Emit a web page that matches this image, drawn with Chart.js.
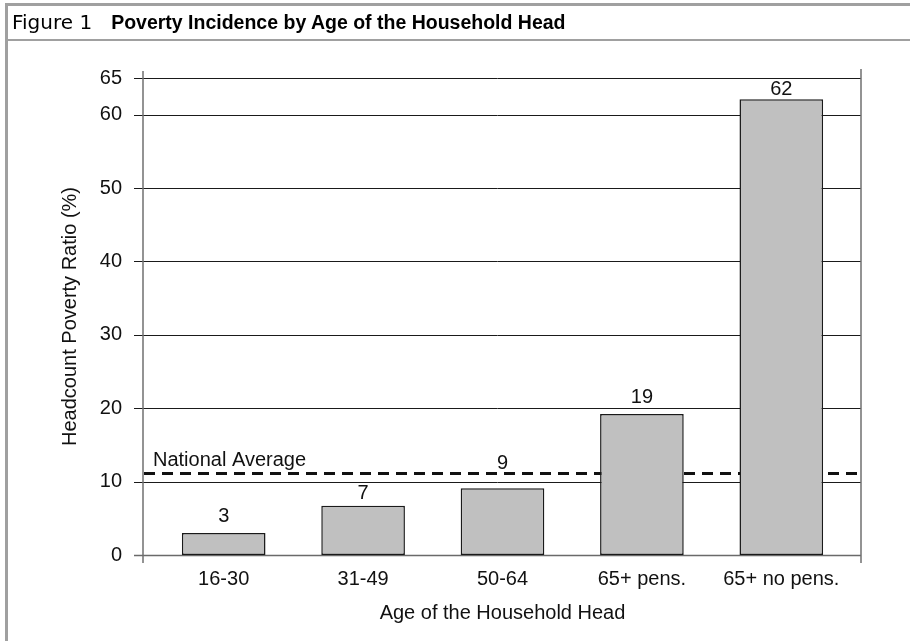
<!DOCTYPE html>
<html>
<head>
<meta charset="utf-8">
<script src="https://cdn.jsdelivr.net/npm/chart.js@4/dist/chart.umd.min.js"></script>
<style>
html, body { margin: 0; padding: 0; background: #fff; width: 910px; height: 641px; overflow: hidden; }
#c { position: absolute; left: 0; top: 0; }
#frame { position: absolute; left: 5px; top: 3px; width: 905px; height: 660px; border-left: 3px solid #a0a0a0; border-top: 3px solid #a0a0a0; }
#head { height: 33px; border-bottom: 2px solid #a0a0a0; line-height: 33px; white-space: nowrap; color: #000; }
#head .fig { font-family: "DejaVu Sans"; font-size: 20px; margin-left: 4px; }
#head .ttl { font-family: "Liberation Sans"; font-size: 19.5px; font-weight: bold; margin-left: 19px; }
</style>
</head>
<body>
<canvas id="c" width="910" height="641"></canvas>
<div id="frame"><div id="head"><span class="fig">Figure 1</span><span class="ttl">Poverty Incidence by Age of the Household Head</span></div></div>
<script>
var categories = ['16-30', '31-49', '50-64', '65+ pens.', '65+ no pens.'];
var povertyRates = [3.0, 6.7, 9.1, 19.2, 62.1];
var rateLabels = ['3', '7', '9', '19', '62'];
var nationalAverage = 11.1;
var yTicks = [0, 10, 20, 30, 40, 50, 60, 65];

var FONT = '"Liberation Sans", Arial, sans-serif';

// gridlines, frame and the national average line, drawn under the bars
var framePlugin = {
    id: 'frame',
    beforeDatasetsDraw: function(chart) {
        var ctx = chart.ctx;
        var a = chart.chartArea;
        var y = chart.scales.y;
        var x0 = a.left - 11;
        var x1 = a.right + 10;
        ctx.save();
        for (var i = 0; i < yTicks.length; i++) {
            var py = Math.round(y.getPixelForValue(yTicks[i])) + 0.5;
            ctx.beginPath();
            ctx.strokeStyle = yTicks[i] === 0 ? '#6a6a6a' : '#1a1a1a';
            ctx.lineWidth = yTicks[i] === 0 ? 1.5 : 1;
            ctx.moveTo(x0 - 9, py);
            ctx.lineTo(x1, py);
            ctx.stroke();
        }
        ctx.strokeStyle = '#707070';
        ctx.lineWidth = 1.5;
        ctx.beginPath();
        ctx.moveTo(x0, a.top - 7);
        ctx.lineTo(x0, a.bottom + 8);
        ctx.moveTo(x1, a.top - 9);
        ctx.lineTo(x1, a.bottom + 8);
        ctx.stroke();

        var ay = y.getPixelForValue(nationalAverage);
        ctx.strokeStyle = '#111';
        ctx.lineWidth = 3;
        ctx.setLineDash([11, 7]);
        ctx.beginPath();
        ctx.moveTo(x0 + 1, ay);
        ctx.lineTo(x1 - 2, ay);
        ctx.stroke();
        ctx.setLineDash([]);

        ctx.fillStyle = '#111';
        ctx.font = '20px ' + FONT;
        ctx.textAlign = 'left';
        ctx.textBaseline = 'alphabetic';
        ctx.fillText('National Average', x0 + 10, ay - 8);
        ctx.restore();
    },
    // value labels: above the bar, moved clear of the average line and gridlines
    afterDatasetsDraw: function(chart) {
        var ctx = chart.ctx;
        var y = chart.scales.y;
        var ay = y.getPixelForValue(nationalAverage);
        var bars = chart.getDatasetMeta(0).data;
        ctx.save();
        ctx.fillStyle = '#111';
        ctx.font = '20px ' + FONT;
        ctx.textAlign = 'center';
        ctx.textBaseline = 'alphabetic';
        for (var i = 0; i < bars.length; i++) {
            var base = bars[i].y - 11;
            if (base > ay - 2 && base - 15 < ay + 2) {
                base = ay - 5;
            } else {
                for (var k = 0; k < yTicks.length; k++) {
                    var gy = y.getPixelForValue(yTicks[k]);
                    if (base > gy - 1 && base - 15 < gy + 1) base = gy + 17;
                }
            }
            ctx.fillText(rateLabels[i], bars[i].x, base);
        }
        ctx.restore();
    }
};

new Chart(document.getElementById('c'), {
    type: 'bar',
    data: {
        labels: categories,
        datasets: [{
            data: povertyRates,
            backgroundColor: '#c0c0c0',
            borderColor: '#1a1a1a',
            borderWidth: 1.5,
            borderSkipped: false,
            categoryPercentage: 1,
            barPercentage: 0.6
        }]
    },
    options: {
        responsive: false,
        animation: false,
        layout: { padding: { top: 78, right: 59, bottom: 0, left: 0 } },
        plugins: { legend: { display: false }, tooltip: { enabled: false } },
        scales: {
            x: {
                grid: { display: false, drawTicks: false },
                border: { display: false },
                ticks: { color: '#111', font: { family: FONT, size: 20 }, padding: 12, maxRotation: 0 },
                title: {
                    display: true,
                    text: 'Age of the Household Head',
                    color: '#111',
                    font: { family: FONT, size: 20 },
                    padding: { top: 0, bottom: 16 }
                },
                afterFit: function(scale) { scale.height = 86; }
            },
            y: {
                min: 0,
                max: 65,
                grid: { display: false, drawTicks: false },
                border: { display: false },
                afterBuildTicks: function(scale) {
                    scale.ticks = yTicks.map(function(v) { return { value: v }; });
                },
                ticks: { color: '#111', font: { family: FONT, size: 20 }, padding: 32 },
                title: {
                    display: true,
                    text: 'Headcount Poverty Ratio (%)',
                    color: '#111',
                    font: { family: FONT, size: 20 },
                    padding: { top: 58, bottom: 0 }
                },
                afterFit: function(scale) { scale.width = 154; }
            }
        }
    },
    plugins: [framePlugin]
});
</script>
</body>
</html>
